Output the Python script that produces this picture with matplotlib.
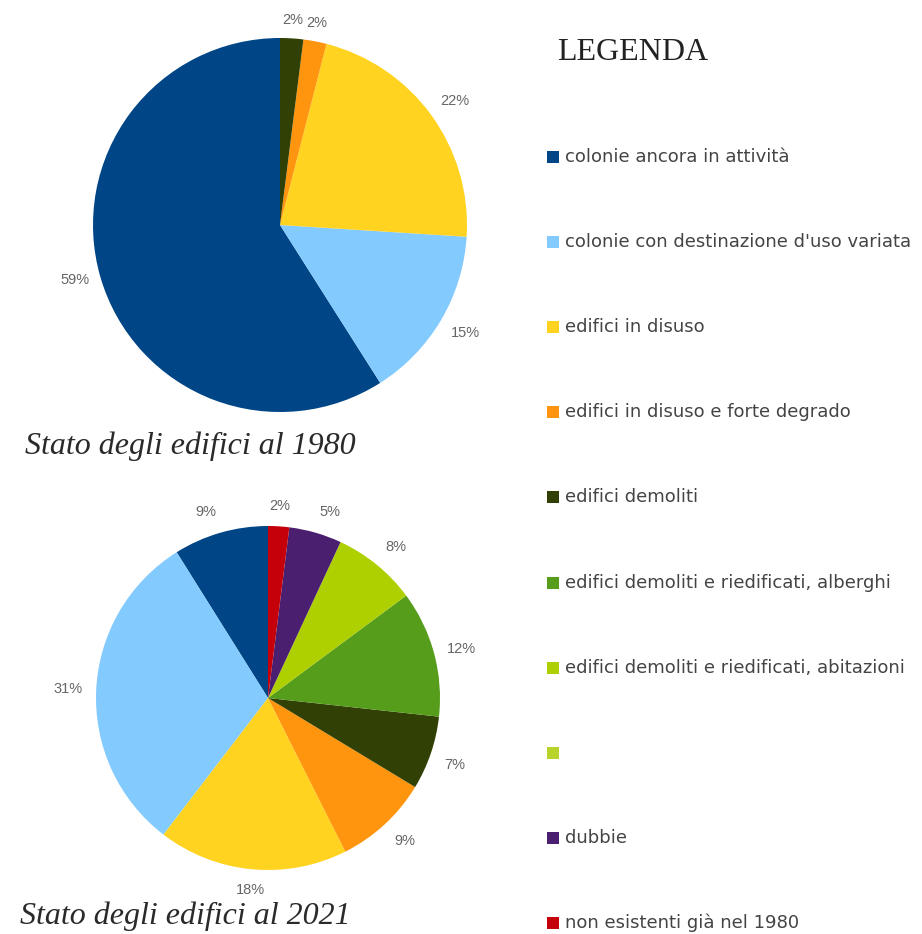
import matplotlib
matplotlib.use("Agg")
import matplotlib.pyplot as plt
from matplotlib.patches import Rectangle
import numpy as np

# ---- data ----
categories = [
    "colonie ancora in attività",
    "colonie con destinazione d'uso variata",
    "edifici in disuso",
    "edifici in disuso e forte degrado",
    "edifici demoliti",
    "edifici demoliti e riedificati, alberghi",
    "edifici demoliti e riedificati, abitazioni",
    "",
    "dubbie",
    "non esistenti già nel 1980",
]
colors = ["#004586", "#83CAFF", "#FFD320", "#FF950E", "#314004",
          "#579D1C", "#AECF00", "#B8D42A", "#4B1F6F", "#C5000B"]

values_1980 = [59, 15, 22, 2, 2, 0, 0, 0, 0, 0]
values_2021 = [9, 31, 18, 9, 7, 12, 8, 0, 5, 2]

title_1980 = "Stato degli edifici al 1980"
title_2021 = "Stato degli edifici al 2021"
legend_title = "LEGENDA"

W, H = 922, 934
fig = plt.figure(figsize=(W / 100, H / 100), dpi=100)
fig.patch.set_facecolor("white")


def pie_axes(cx, cy, r):
    return fig.add_axes([(cx - r) / W, (H - cy - r) / H, 2 * r / W, 2 * r / H])


def draw_pie(ax, values, rlab=1.07):
    vals = [v for v in values if v > 0]
    cols = [c for v, c in zip(values, colors) if v > 0]
    wedges, _ = ax.pie(vals, colors=cols, startangle=90, counterclock=True,
                       wedgeprops=dict(linewidth=0))
    for w, v in zip(wedges, vals):
        ang = np.deg2rad((w.theta1 + w.theta2) / 2)
        c, s = np.cos(ang), np.sin(ang)
        ha = "left" if c > 0.25 else ("right" if c < -0.25 else "center")
        va = "bottom" if s > 0.3 else ("top" if s < -0.3 else "center")
        ax.text(rlab * c, rlab * s, f"{v}%", ha=ha, va=va, fontsize=10.5,
                color="#666666", family="Liberation Sans")
    ax.set_xlim(-1, 1)
    ax.set_ylim(-1, 1)
    ax.set_aspect("equal")
    ax.axis("off")


ax1 = pie_axes(280, 225, 187)
draw_pie(ax1, values_1980, 1.06)
ax2 = pie_axes(268, 698, 172)
draw_pie(ax2, values_2021, 1.08)

# overlay axes in pixel coordinates for text / legend
ov = fig.add_axes([0, 0, 1, 1])
ov.set_xlim(0, W)
ov.set_ylim(H, 0)
ov.axis("off")

ov.text(25, 446, title_1980, fontsize=23, style="italic", family="Liberation Serif",
        color="#2a2a2a", ha="left", va="center")
ov.text(20, 916, title_2021, fontsize=23, style="italic", family="Liberation Serif",
        color="#2a2a2a", ha="left", va="center")
ov.text(557, 52, legend_title, fontsize=23, family="Liberation Serif",
        color="#222222", ha="left", va="center")

y0, dy = 157, 85.1
for i, (lab, col) in enumerate(zip(categories, colors)):
    y = y0 + i * dy
    ov.add_patch(Rectangle((547, y - 6), 12, 12, facecolor=col, edgecolor="none"))
    ov.text(565, y, lab, fontsize=13, family="DejaVu Sans", color="#444444",
            ha="left", va="center")

fig.savefig("out.png", dpi=100, facecolor="white")
